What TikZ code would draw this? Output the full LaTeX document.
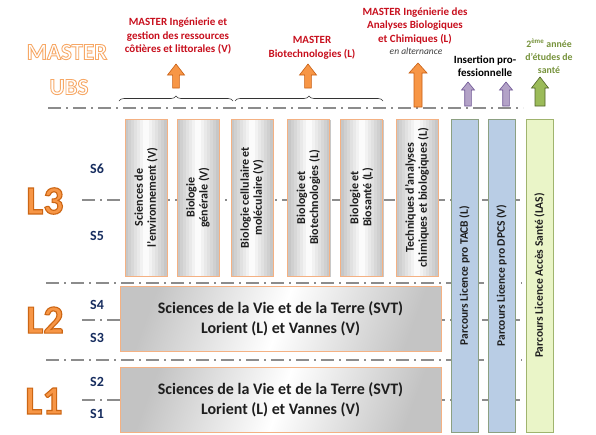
\documentclass[tikz,border=0pt]{standalone}
\usepackage{fontspec}
\setmainfont{Carlito}
\usetikzlibrary{decorations.pathreplacing,shadows}
\definecolor{mred}{RGB}{200,16,30}
\definecolor{navy}{RGB}{23,45,95}
\definecolor{orfill}{RGB}{247,150,70}
\definecolor{ordraw}{RGB}{200,95,20}
\definecolor{orlight}{RGB}{250,180,120}
\definecolor{purfill}{RGB}{179,162,199}
\definecolor{purdraw}{RGB}{112,88,150}
\definecolor{grfill}{RGB}{155,187,89}
\definecolor{grdraw}{RGB}{79,98,40}
\definecolor{grtext}{RGB}{119,147,60}
\definecolor{bluefill}{RGB}{185,205,229}
\definecolor{bluedraw}{RGB}{140,160,130}
\definecolor{lasfill}{RGB}{234,245,200}
\definecolor{lasdraw}{RGB}{160,180,110}
\definecolor{boxline}{RGB}{244,177,131}
\definecolor{sepgray}{RGB}{140,140,140}
\definecolor{boxtext}{RGB}{30,30,30}
\definecolor{shadowgray}{RGB}{200,200,200}
% stroked text: #1 = stroke colour as "r g b", #2 = line width, #3 = text
\newcommand{\strokedtext}[3]{\special{pdf:literal direct 2 Tr #2 w #1 RG}#3\special{pdf:literal direct 0 Tr}}
\newcommand{\fatup}[7]{%
  \filldraw[#7] (#1-#6,#3) -- (#1-#6,#2+#5) -- (#1-#4,#2+#5) -- (#1,#2) --
  (#1+#4,#2+#5) -- (#1+#6,#2+#5) -- (#1+#6,#3) -- cycle;}
\tikzset{
  sep/.style={draw=sepgray, line width=1.2pt, dash pattern=on 13pt off 5pt on 2pt off 5pt},
  title/.style={align=center, inner sep=0pt, font=\fontsize{11}{13.5}\selectfont\bfseries},
  boxshadow/.style={general shadow={fill=shadowgray, shadow xshift=1.3pt, shadow yshift=-1.3pt}},
  stripes/.style={path picture={
    \foreach \i in {0,...,13}{
      \pgfmathsetmacro\c{abs(\i-6.5)/6.5*22}
      \fill[black!\c]
        ([xshift=\i*3pt]path picture bounding box.south west) rectangle
        ([xshift=\i*3pt+3.3pt]path picture bounding box.north west);}}},
  l3box/.style={boxshadow, fill=white, stripes, draw=boxline, line width=0.7pt,
    minimum width=42pt, minimum height=157pt, inner sep=0pt},
  l3text/.style={rotate=90, inner sep=0pt, align=center, text=boxtext,
    font=\fontsize{12}{13}\selectfont\bfseries},
  tallbox/.style={boxshadow, line width=0.7pt, rotate=90, minimum width=313pt, minimum height=27pt,
    inner sep=1pt, text=boxtext, font=\fontsize{11.5}{13}\selectfont\bfseries},
  lbox/.style={boxshadow, draw=boxline, line width=0.7pt, top color=black!#1, bottom color=black!#1,
    middle color=white, shading angle=70, minimum width=321pt, minimum height=65pt,
    align=center, text=boxtext, font=\fontsize{16}{20}\selectfont\bfseries},
  sem/.style={text=navy, font=\fontsize{14}{14}\selectfont\bfseries, inner sep=0pt},
  year/.style={inner sep=0pt, text=orfill, font=\fontsize{40}{40}\selectfont\bfseries},
  hollow/.style={inner sep=0pt, text=white, font=\fontsize{23}{23}\selectfont\bfseries},
  oarrow/.style={fill=orfill, draw=ordraw, line width=0.6pt},
  parrow/.style={fill=purfill, draw=purdraw, line width=0.6pt},
  garrow/.style={fill=grfill, draw=grdraw, line width=0.6pt},
  bracestyle/.style={draw=black!80, line width=0.6pt, decorate, decoration={brace, amplitude=5pt}}
}
\begin{document}
\begin{tikzpicture}[x=1pt, y=-1pt]
\useasboundingbox (0,0) rectangle (596,434);
\fill[white] (0,0) rectangle (596,434);

% separators
\draw[sep] (48,108) -- (523,108);
\draw[sep] (82,200) -- (522,200);
\draw[sep] (46,283) -- (522,283);
\draw[sep] (82,320) -- (522,320);
\draw[sep] (46,360) -- (522,360);
\draw[sep] (82,400) -- (522,400);

% braces
\coordinate (b1s) at (119,101); \coordinate (b1e) at (233,101);
\coordinate (b2s) at (235,101); \coordinate (b2e) at (383,101);
\draw[bracestyle] (b1s) -- (b1e);
\draw[bracestyle] (b2s) -- (b2e);

% arrows
\fatup{176}{64}{88}{8.5}{11}{3.4}{oarrow}
\fatup{308}{64}{88}{8.5}{11}{3.4}{oarrow}
\fatup{418}{63}{107}{9}{10}{4}{oarrow}
\fatup{468}{82}{106}{6.5}{8}{3.3}{parrow}
\fatup{506}{82}{106}{6.5}{8}{3.3}{parrow}
\fatup{540}{77}{106}{8.5}{11}{5}{garrow}

% top texts
\node[title, text=mred] (m1) at (178,36) {MASTER Ingénierie et\\gestion des ressources\\côtières et littorales (V)};
\node[title, text=mred] (m2) at (312,48) {MASTER\\Biotechnologies (L)};
\node[title, text=mred] (m3) at (415,26) {MASTER Ingénierie des\\Analyses Biologiques\\et Chimiques (L)};
\node[inner sep=0pt, text=black!75, font=\fontsize{9.5}{10}\selectfont\itshape] (alt) at (416,51) {en alternance};
\node[title, text=black, font=\fontsize{11}{13}\selectfont\bfseries] (ins) at (485,66) {Insertion pro-\\fessionnelle};
\node[title, text=grtext, font=\fontsize{9.8}{13}\selectfont\bfseries] (sante) at (549,56) {2\textsuperscript{ème} année\\d'études de\\santé};

% MASTER UBS
\node[hollow] (master) at (67,52) {\strokedtext{0.97 0.66 0.40}{0.9}{MASTER}};
\node[hollow] (ubs) at (69,87) {\strokedtext{0.97 0.66 0.40}{0.9}{UBS}};

% L3 boxes
\node[l3box] (p1) at (146,197.5) {};
\node[l3box] (p2) at (198,197.5) {};
\node[l3box] (p3) at (252,197.5) {};
\node[l3box] (p4) at (308.5,197.5) {};
\node[l3box] (p5) at (361.5,197.5) {};
\node[l3box] (p6) at (417,197.5) {};
\node[l3text] (p1t) at (p1.center) {Sciences de\\l'environnement (V)};
\node[l3text] (p2t) at (p2.center) {Biologie\\générale (V)};
\node[l3text] (p3t) at (p3.center) {Biologie cellulaire et\\moléculaire (V)};
\node[l3text] (p4t) at (p4.center) {Biologie et\\Biotechnologies (L)};
\node[l3text] (p5t) at (p5.center) {Biologie et\\Biosanté (L)};
\node[l3text] (p6t) at (p6.center) {Techniques d'analyses\\chimiques et biologiques (L)};

% tall boxes
\node[tallbox, fill=bluefill, draw=bluedraw] (tacb) at (464.5,275.5) {Parcours Licence pro TACB (L)};
\node[tallbox, fill=bluefill, draw=bluedraw] (dpcs) at (501.5,275.5) {Parcours Licence pro DPCS (V)};
\node[tallbox, fill=lasfill, draw=lasdraw] (las) at (539.5,275.5) {Parcours Licence Accès Santé (LAS)};

% L2 / L1 boxes
\node[lbox=23] (svt2) at (280.5,318.5) {Sciences de la Vie et de la Terre (SVT)\\Lorient (L) et Vannes (V)};
\node[lbox=23.5] (svt1) at (280.5,399.5) {Sciences de la Vie et de la Terre (SVT)\\Lorient (L) et Vannes (V)};

% year labels
\node[year] (l3) at (45,201) {\strokedtext{0.80 0.40 0.08}{1.1}{L3}};
\node[year] (l2) at (45,320) {\strokedtext{0.80 0.40 0.08}{1.1}{L2}};
\node[year] (l1) at (44,401) {\strokedtext{0.80 0.40 0.08}{1.1}{L1}};

% semesters
\node[sem] (s6) at (97,169) {S6};
\node[sem] (s5) at (97,236) {S5};
\node[sem] (s4) at (97,305) {S4};
\node[sem] (s3) at (97,338) {S3};
\node[sem] (s2) at (97,382) {S2};
\node[sem] (s1) at (97,414) {S1};
\end{tikzpicture}
\end{document}
